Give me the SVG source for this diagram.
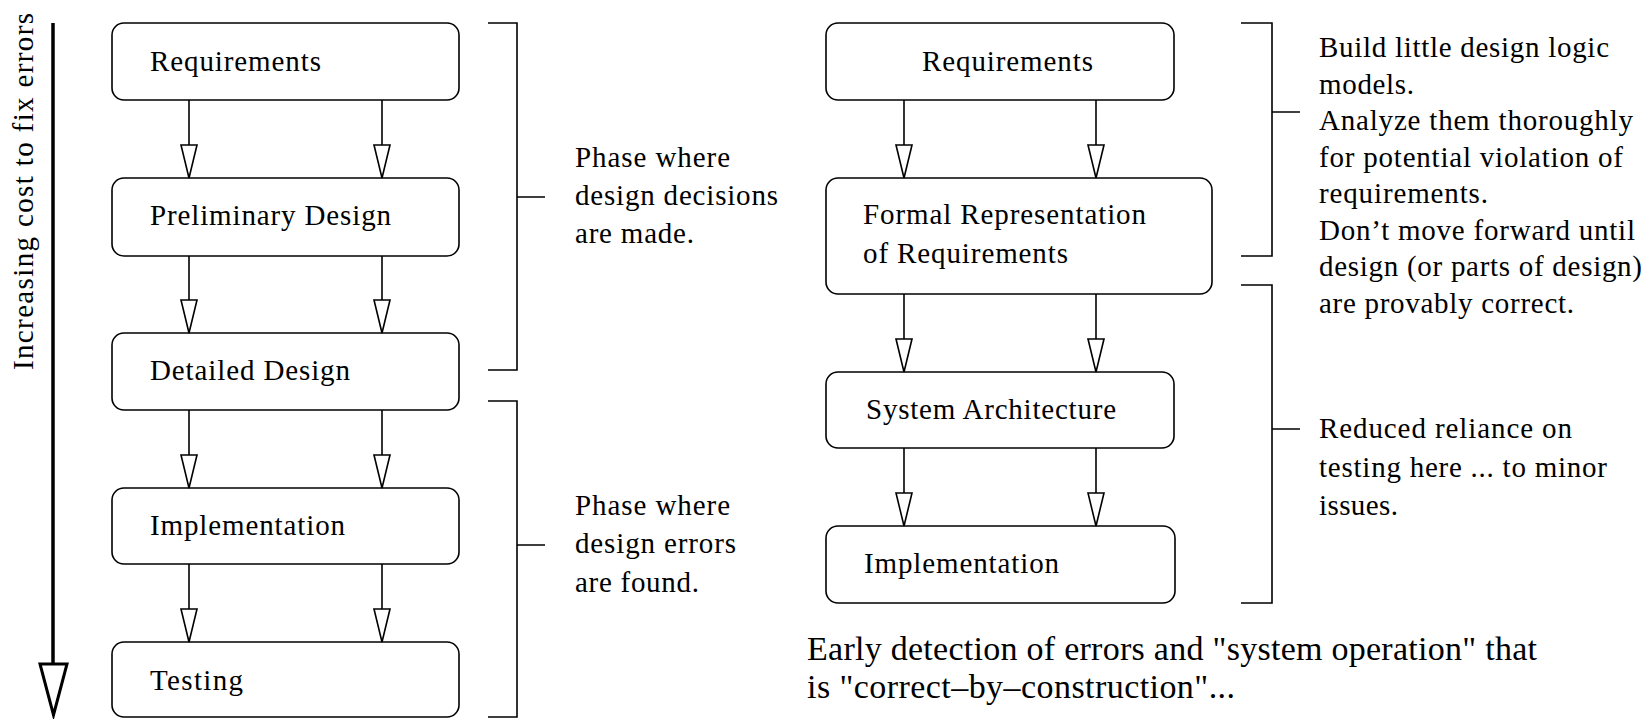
<svg xmlns="http://www.w3.org/2000/svg" width="1650" height="719" viewBox="0 0 1650 719" font-family="Liberation Serif">
<style>
  .box { fill: #fff; stroke: #000; stroke-width: 1.6; }
  .t { font-size: 29px; fill: #000; }
  .big { font-size: 34px; fill: #000; }
  .conn { stroke: #000; stroke-width: 1.6; fill: none; }
  .brk { stroke: #000; stroke-width: 1.6; fill: none; }
</style>
<defs>
  <marker id="ah" markerUnits="userSpaceOnUse" markerWidth="40" markerHeight="20" viewBox="-1 -10 36 20" refX="33" refY="0" orient="auto" overflow="visible">
    <path d="M0,-8 L33,0 L0,8 Z" fill="#fff" stroke="#000" stroke-width="1.6" stroke-linejoin="miter"/>
  </marker>
</defs>
<rect width="1650" height="719" fill="#fff"/>

<!-- axis -->
<g id="axis">
  <text class="t" font-family="Liberation Serif" font-size="28" transform="translate(33,370) rotate(-90)" textLength="357" lengthAdjust="spacing">Increasing cost to fix errors</text>
  <line x1="53" y1="23" x2="53" y2="664" stroke="#000" stroke-width="3.5"/>
  <path d="M40,664 L67,664 L53.5,715 Z" fill="#fff" stroke="#000" stroke-width="3"/>
</g>

<!-- left column nodes -->
<g id="l-req"><rect class="box" x="112" y="23" width="347" height="77" rx="12"/><text class="t" font-family="Liberation Serif" x="150" y="71" textLength="171">Requirements</text></g>
<g id="l-prelim"><rect class="box" x="112" y="178" width="347" height="78" rx="12"/><text class="t" font-family="Liberation Serif" x="150" y="225" textLength="241">Preliminary Design</text></g>
<g id="l-detail"><rect class="box" x="112" y="333" width="347" height="77" rx="12"/><text class="t" font-family="Liberation Serif" x="150" y="380" textLength="200">Detailed Design</text></g>
<g id="l-impl"><rect class="box" x="112" y="488" width="347" height="76" rx="12"/><text class="t" font-family="Liberation Serif" x="150" y="535" textLength="195">Implementation</text></g>
<g id="l-test"><rect class="box" x="112" y="642" width="347" height="75" rx="12"/><text class="t" font-family="Liberation Serif" x="150" y="690" textLength="93">Testing</text></g>

<!-- right column nodes -->
<g id="r-req"><rect class="box" x="826" y="23" width="348" height="77" rx="12"/><text class="t" font-family="Liberation Serif" x="922" y="71" textLength="171">Requirements</text></g>
<g id="r-formal"><rect class="box" x="826" y="178" width="386" height="116" rx="12"/><text class="t" font-family="Liberation Serif" x="863" y="224" textLength="283">Formal Representation</text><text class="t" font-family="Liberation Serif" x="863" y="263" textLength="205">of Requirements</text></g>
<g id="r-arch"><rect class="box" x="826" y="372" width="348" height="76" rx="12"/><text class="t" font-family="Liberation Serif" x="866" y="419" textLength="250">System Architecture</text></g>
<g id="r-impl"><rect class="box" x="826" y="526" width="349" height="77" rx="12"/><text class="t" font-family="Liberation Serif" x="864" y="573" textLength="195">Implementation</text></g>

<!-- connectors -->
<g id="connectors">
  <path class="conn" d="M189,100 V178" marker-end="url(#ah)"/>
  <path class="conn" d="M382,100 V178" marker-end="url(#ah)"/>
  <path class="conn" d="M189,256 V333" marker-end="url(#ah)"/>
  <path class="conn" d="M382,256 V333" marker-end="url(#ah)"/>
  <path class="conn" d="M189,410 V488" marker-end="url(#ah)"/>
  <path class="conn" d="M382,410 V488" marker-end="url(#ah)"/>
  <path class="conn" d="M189,564 V642" marker-end="url(#ah)"/>
  <path class="conn" d="M382,564 V642" marker-end="url(#ah)"/>
  <path class="conn" d="M904,100 V178" marker-end="url(#ah)"/>
  <path class="conn" d="M1096,100 V178" marker-end="url(#ah)"/>
  <path class="conn" d="M904,294 V372" marker-end="url(#ah)"/>
  <path class="conn" d="M1096,294 V372" marker-end="url(#ah)"/>
  <path class="conn" d="M904,448 V526" marker-end="url(#ah)"/>
  <path class="conn" d="M1096,448 V526" marker-end="url(#ah)"/>
</g>

<!-- brackets -->
<g id="bracket-left-1" font-family="Liberation Serif">
  <path class="brk" d="M488,23 H517 V370 H488 M517,197 H545"/>
  <text class="t" x="575" y="167" textLength="155">Phase where</text>
  <text class="t" x="575" y="205" textLength="203">design decisions</text>
  <text class="t" x="575" y="243" textLength="119">are made.</text>
</g>
<g id="bracket-left-2" font-family="Liberation Serif">
  <path class="brk" d="M488,401 H517 V717 H488 M517,545 H545"/>
  <text class="t" x="575" y="515" textLength="155">Phase where</text>
  <text class="t" x="575" y="553" textLength="161">design errors</text>
  <text class="t" x="575" y="592" textLength="124">are found.</text>
</g>
<g id="bracket-right-1" font-family="Liberation Serif">
  <path class="brk" d="M1241,23 H1272 V256 H1241 M1272,112 H1300"/>
  <text class="t" x="1319" y="57" textLength="290">Build little design logic</text>
  <text class="t" x="1319" y="93.5" textLength="95">models.</text>
  <text class="t" x="1319" y="130" textLength="314">Analyze them thoroughly</text>
  <text class="t" x="1319" y="166.5" textLength="304">for potential violation of</text>
  <text class="t" x="1319" y="203" textLength="169">requirements.</text>
  <text class="t" x="1319" y="239.5" textLength="316">Don’t move forward until</text>
  <text class="t" x="1319" y="276" textLength="323">design (or parts of design)</text>
  <text class="t" x="1319" y="312.5" textLength="255">are provably correct.</text>
</g>
<g id="bracket-right-2" font-family="Liberation Serif">
  <path class="brk" d="M1241,285 H1272 V603 H1241 M1272,429 H1300"/>
  <text class="t" x="1319" y="438" textLength="253">Reduced reliance on</text>
  <text class="t" x="1319" y="477" textLength="288">testing here ... to minor</text>
  <text class="t" x="1319" y="515" textLength="79">issues.</text>
</g>

<g id="caption" font-family="Liberation Serif">
  <text class="big" x="807" y="660" textLength="730">Early detection of errors and "system operation" that</text>
  <text class="big" x="807" y="698" textLength="428">is "correct–by–construction"...</text>
</g>
</svg>
